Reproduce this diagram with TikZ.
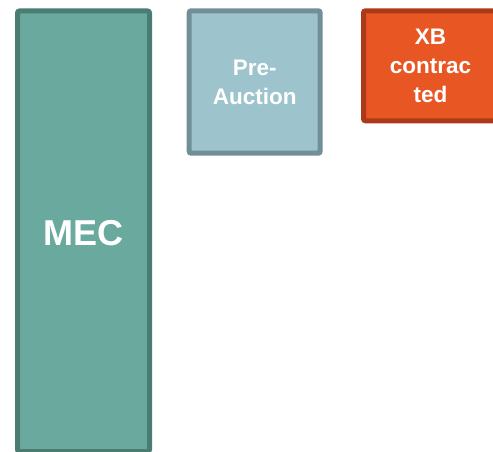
\documentclass[tikz,border=0pt]{standalone}
\usepackage{fontspec}
\setmainfont{Liberation Sans}
\definecolor{mecfill}{HTML}{6AAA9E}
\definecolor{mecline}{HTML}{4A7C72}
\definecolor{prefill}{HTML}{9DC3CC}
\definecolor{preline}{HTML}{708F98}
\definecolor{xbfill}{HTML}{E85723}
\definecolor{xbline}{HTML}{AC3A19}
\begin{document}
\begin{tikzpicture}[x=1pt,y=1pt,
  block/.style={draw, line width=5pt, rounded corners=2pt, inner sep=0pt,
    text=white, font=\bfseries, align=center},
  smalltext/.style={font=\fontsize{22.5}{29}\selectfont\bfseries}]
  \useasboundingbox (0,0) rectangle (493,451);
  % tall stage box
  \node[block, fill=mecfill, draw=mecline, minimum width=132pt, minimum height=440.5pt,
        text height=29pt, text depth=0pt,
        font=\fontsize{36}{40}\selectfont\bfseries] (mec) at (83.5,219.75) {MEC};
  % pre-auction stage
  \node[block, smalltext, fill=prefill, draw=preline, minimum width=131pt, minimum height=142.4pt]
        (pre) at (254.7,369) {Pre-\\Auction};
  % contracted stage
  \node[block, smalltext, fill=xbfill, draw=xbline, minimum width=134pt, minimum height=110pt]
        (xb) at (430.5,385.2) {XB\\contrac\\ted};
\end{tikzpicture}
\end{document}
